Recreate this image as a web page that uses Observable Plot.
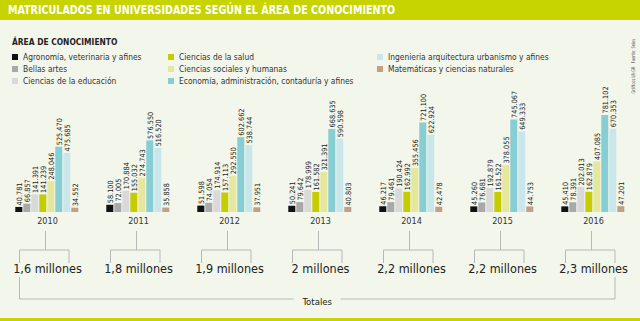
<!DOCTYPE html>
<html><head><meta charset="utf-8">
<script src="https://cdn.jsdelivr.net/npm/d3@7"></script>
<script src="https://cdn.jsdelivr.net/npm/@observablehq/plot@0.6"></script>
<style>
body{margin:0;background:#f3f6ea;}
#wrap{position:relative;width:640px;height:321px;overflow:hidden;background:#f3f6ea;font-family:"Liberation Sans Narrow","DejaVu Sans Condensed","Liberation Sans",sans-serif;}
#title{position:absolute;left:0;top:0;width:640px;height:20px;background:#c8d400;}
#title span{position:absolute;left:8px;top:0;color:#fff;font-weight:bold;font-size:12.5px;line-height:20px;white-space:nowrap;transform:scaleX(0.85);transform-origin:0 50%;}
#lhead{position:absolute;left:12px;top:36px;font-weight:bold;font-size:9.5px;line-height:12px;color:#222;white-space:nowrap;transform:scaleX(0.88);transform-origin:0 50%;}
.li{position:absolute;font-size:9.5px;color:#333;white-space:nowrap;line-height:12px;}
.li i{position:absolute;left:0;top:3px;width:6px;height:6px;}
.li b{font-weight:normal;position:absolute;left:11px;top:0;transform:scaleX(0.88);transform-origin:0 50%;}
#chart{position:absolute;left:0;top:80px;}
#bottom{position:absolute;left:0;top:318px;width:640px;height:3px;background:#c8d400;}
.credit{position:absolute;font-size:5px;color:#555;white-space:nowrap;transform:translate(-50%,-50%) rotate(-90deg) scaleX(0.8);}
</style></head>
<body><div id="wrap">
<div id="title"><span>MATRICULADOS EN UNIVERSIDADES SEGÚN EL ÁREA DE CONOCIMIENTO</span></div>
<div id="lhead">ÁREA DE CONOCIMIENTO</div>
<div id="legend"></div>
<div class="credit" style="left:633px;top:51px">Fuente: Snies</div>
<div class="credit" style="left:633px;top:80px">Gráficos LR-GR</div>
<div id="chart"></div>
<div id="bottom"></div>
</div>
<script>
const years = [2010, 2011, 2012, 2013, 2014, 2015, 2016];
const categories = [
  "Agronomía, veterinaria y afines",
  "Bellas artes",
  "Ciencias de la educación",
  "Ciencias de la salud",
  "Ciencias sociales y humanas",
  "Economía, administración, contaduría y afines",
  "Ingenieria arquitectura urbanismo y afines",
  "Matemáticas y ciencias naturales"
];
const colors = ["#111111", "#a9a8ab", "#d9d9d9", "#c5cc00", "#e5e89c", "#86cdd4", "#c9e7ea", "#c29f86"];
const agronomia   = [40781, 58100, 51598, 50241, 46217, 45260, 45410];
const bellasArtes = [66857, 72005, 74054, 79642, 79461, 76681, 78391];
const educacion   = [141391, 170884, 174914, 178999, 190424, 192879, 202013];
const salud       = [141239, 155032, 157113, 161582, 162992, 161522, 162879];
const sociales    = [248046, 274743, 292550, 321391, 355456, 378055, 407085];
const economia    = [525470, 576550, 602662, 668635, 721100, 745067, 781102];
const ingenieria  = [475685, 516520, 538744, 590598, 622924, 649333, 670353];
const matematicas = [34552, 35858, 37951, 40803, 42478, 44753, 47201];
const totals = ["1,6 millones", "1,8 millones", "1,9 millones", "2 millones", "2,2 millones", "2,2 millones", "2,3 millones"];

const series = [agronomia, bellasArtes, educacion, salud, sociales, economia, ingenieria, matematicas];
const data = years.flatMap((y, i) => categories.map((c, j) => ({year: y, cat: c, value: series[j][i]})));
const fmt = d3.formatLocale({decimal: ",", thousands: ".", grouping: [3], currency: ["", ""]}).format(",");

// legend
const legend = document.getElementById("legend");
const colX = [12, 168, 377];
categories.forEach((c, i) => {
  const el = document.createElement("div");
  el.className = "li";
  el.style.left = colX[Math.floor(i / 3)] + "px";
  el.style.top = (51 + (i % 3) * 12.2) + "px";
  el.innerHTML = `<i style="background:${colors[i]}"></i><b>${c}</b>`;
  legend.appendChild(el);
});

const FONT = '"Liberation Sans Narrow","DejaVu Sans Condensed","Liberation Sans",sans-serif';
const plot = Plot.plot({
  width: 640, height: 241,
  marginLeft: 10.7, marginRight: 11.7, marginTop: 35, marginBottom: 109,
  style: {background: "transparent", fontFamily: FONT, overflow: "visible"},
  fx: {domain: years, paddingInner: 0.258, paddingOuter: 0, axis: null, label: null},
  x: {domain: categories, paddingInner: 0.1, paddingOuter: 0, axis: null},
  y: {domain: [0, 781102], axis: null},
  color: {domain: categories, range: colors},
  marks: [
    Plot.barY(data, {fx: "year", x: "cat", y: "value", fill: "cat"}),
    Plot.text(data, {fx: "year", x: "cat", y: "value", text: d => fmt(d.value), rotate: -90, textAnchor: "start", lineAnchor: "middle", dy: -2, fontSize: 7.3, fill: "#1a1a1a"}),
    Plot.text(years, {fx: d => d, text: d => String(d), frameAnchor: "bottom", dy: 11, fontSize: 9, fill: "#333"}),
    Plot.text(years, {fx: d => d, text: (d, i) => totals[i], frameAnchor: "bottom", dy: 60, fontSize: 12.5, fill: "#222"})
  ]
});
document.getElementById("chart").appendChild(plot);

// brackets
const svg = d3.select(plot);
const g = svg.append("g").attr("stroke", "#b8b8b8").attr("stroke-width", 1).attr("fill", "none");
let fxs;
try { fxs = plot.scale("fx"); } catch (e) { fxs = null; }
const bw = fxs ? fxs.bandwidth : 68;
const pos = y => fxs ? fxs.apply(y) : 10.7 + years.indexOf(y) * 91.6;
const centers = years.map(y => pos(y) + bw / 2 - 1.5);
centers.forEach(c => {
  g.append("line").attr("x1", c).attr("x2", c).attr("y1", 151).attr("y2", 170);
  g.append("line").attr("x1", c - 26).attr("x2", c + 23.5).attr("y1", 170).attr("y2", 170);
  g.append("line").attr("x1", c - 26).attr("x2", c - 26).attr("y1", 170).attr("y2", 183);
  g.append("line").attr("x1", c + 23.5).attr("x2", c + 23.5).attr("y1", 170).attr("y2", 183);
});
const xL = centers[0] - 26, xR = centers[centers.length - 1] + 23.5, xm = (xL + xR) / 2;
g.append("line").attr("x1", xL).attr("x2", xL).attr("y1", 197).attr("y2", 219);
g.append("line").attr("x1", xR).attr("x2", xR).attr("y1", 197).attr("y2", 219);
g.append("line").attr("x1", xL).attr("x2", xm - 23.5).attr("y1", 219).attr("y2", 219);
g.append("line").attr("x1", xm + 23.5).attr("x2", xR).attr("y1", 219).attr("y2", 219);
svg.append("text").attr("x", xm).attr("y", 222).attr("dy", "0.35em").attr("text-anchor", "middle")
  .attr("font-size", 9.5).attr("fill", "#222").text("Totales");
</script>
</body></html>
